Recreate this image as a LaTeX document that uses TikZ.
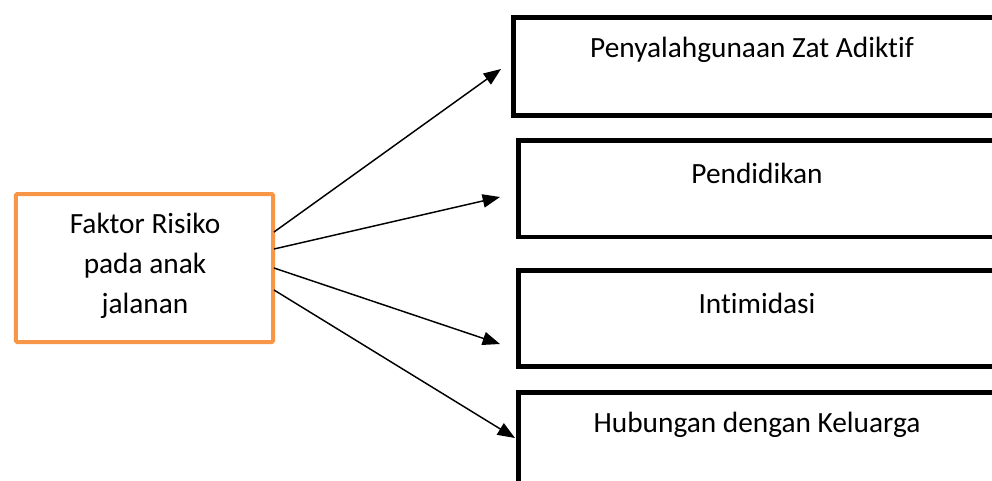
\documentclass[tikz,border=0pt]{standalone}
\usepackage{fontspec}
\setmainfont{Carlito}[Ligatures=CommonOff]
\usetikzlibrary{arrows.meta}
\definecolor{orng}{HTML}{F79646}
\begin{document}
\begin{tikzpicture}[x=0.75pt,y=-0.75pt,
  txt/.style={font=\fontsize{22pt}{30pt}\selectfont,inner sep=0pt,align=center},
  bbox/.style={draw=black,line width=3.4pt,anchor=north west,inner sep=0pt,minimum width=375pt},
  obox/.style={draw=orng,line width=3pt,rounded corners=1pt,inner sep=0pt,minimum width=193pt,minimum height=111pt},
  arr/.style={line width=1.1pt,-{Triangle[length=13pt,width=10pt]}}]
\useasboundingbox (0,0) rectangle (992,480);
\clip (0,0) rectangle (992,480);
\node[obox] (o) at (144.5,268) {};
\node[txt] (ot) at (145,266) {Faktor Risiko\\pada anak\\jalanan};
\node[bbox,minimum height=73.5pt] (b1) at (511,15) {};
\node[bbox,minimum height=72.7pt] (b2) at (516,138) {};
\node[bbox,minimum height=72pt] (b3) at (516,268) {};
\node[bbox,minimum height=90pt] (b4) at (516,390) {};
\node[txt] (t1) at (752,50) {Penyalahgunaan Zat Adiktif};
\node[txt] (t2) at (757,173) {Pendidikan};
\node[txt] (t3) at (757,303) {Intimidasi};
\node[txt] (t4) at (757,425) {Hubungan dengan Keluarga};
\coordinate (s1) at (274,232);
\coordinate (s2) at (274,249);
\coordinate (s3) at (274,268);
\coordinate (s4) at (274,290);
\coordinate (e1) at (501,69);
\coordinate (e2) at (500,197);
\coordinate (e3) at (500,344);
\coordinate (e4) at (515,438);
\draw[arr] (s1) -- (e1);
\draw[arr] (s2) -- (e2);
\draw[arr] (s3) -- (e3);
\draw[arr] (s4) -- (e4);
\end{tikzpicture}
\end{document}
